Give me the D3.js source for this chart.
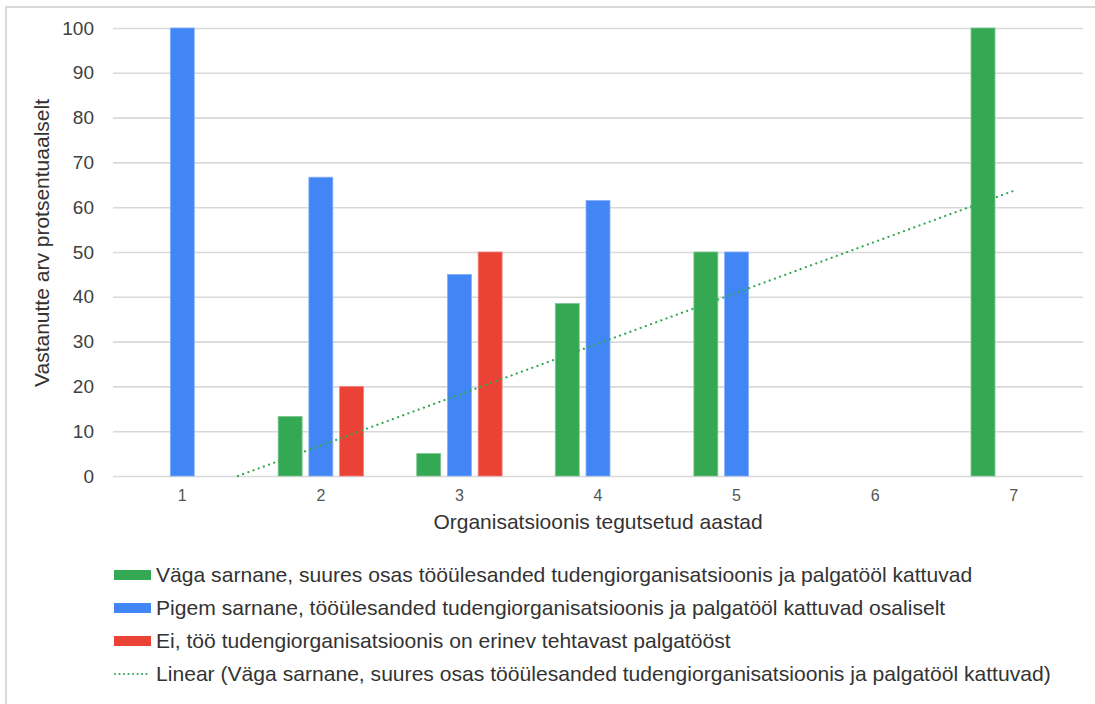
<!DOCTYPE html>
<html>
<head>
<meta charset="utf-8">
<script src="https://cdn.jsdelivr.net/npm/d3@7"></script>
<style>
  html, body { margin: 0; padding: 0; background: #fff; }
  svg { display: block; font-family: "Liberation Sans", Arial, Helvetica, sans-serif; }
</style>
</head>
<body>
<svg id="chart" width="1095" height="704"></svg>
<script>
// Years active in the organisation
const categories = ["1", "2", "3", "4", "5", "6", "7"];

// Share of respondents (%) per answer group
const seriesNames = [
  "Väga sarnane, suures osas tööülesanded tudengiorganisatsioonis ja palgatööl kattuvad",
  "Pigem sarnane, tööülesanded tudengiorganisatsioonis ja palgatööl kattuvad osaliselt",
  "Ei, töö tudengiorganisatsioonis on erinev tehtavast palgatööst"
];
const vagaSarnane  = [0, 13.3, 5, 38.5, 50, 0, 100];
const pigemSarnane = [100, 66.7, 45, 61.5, 50, 0, 0];
const erinev       = [0, 20, 50, 0, 0, 0, 0];
const seriesColors = ["#34a853", "#4285f4", "#ea4335"];

const trendLabel = "Linear (Väga sarnane, suures osas tööülesanded tudengiorganisatsioonis ja palgatööl kattuvad)";
const yTicks = [0, 10, 20, 30, 40, 50, 60, 70, 80, 90, 100];
const xTitle = "Organisatsioonis tegutsetud aastad";
const yTitle = "Vastanutte arv protsentuaalselt";

const seriesValues = [vagaSarnane, pigemSarnane, erinev];

const svg = d3.select("#chart");
const W = 1095, H = 704;
const plot = { left: 113, right: 1083, top: 28, bottom: 476 };

// outer frame
svg.append("rect")
  .attr("x", 6).attr("y", 7)
  .attr("width", W + 10).attr("height", H + 10)
  .attr("fill", "none").attr("stroke", "#d9d9d9").attr("stroke-width", 2);

const x0 = d3.scaleBand().domain(categories)
  .range([plot.left, plot.right])
  .paddingInner(0.335).paddingOuter(0.1675);
const x1 = d3.scaleBand().domain(d3.range(seriesNames.length))
  .range([0, x0.bandwidth()])
  .paddingInner(0.22).paddingOuter(0.11);
const y = d3.scaleLinear().domain([0, 100]).range([plot.bottom, plot.top]);

// horizontal gridlines + y labels
const yAxis = d3.axisLeft(y).tickValues(yTicks)
  .tickSize(-(plot.right - plot.left)).tickPadding(19).tickFormat(d3.format("d"));
const gy = svg.append("g").attr("transform", `translate(${plot.left},0)`).call(yAxis);
gy.select(".domain").remove();
gy.selectAll(".tick line").attr("stroke", "#d9d9d9").attr("stroke-width", 1.6);
gy.selectAll(".tick text")
  .attr("fill", "#404040").style("font-size", "19px");

// x labels
const xAxis = d3.axisBottom(x0).tickSize(0).tickPadding(14);
const gx = svg.append("g").attr("transform", `translate(0,${plot.bottom})`).call(xAxis);
gx.select(".domain").remove();
gx.selectAll(".tick text").attr("fill", "#555").style("font-size", "16px");

// bars
const groups = svg.append("g").selectAll("g")
  .data(categories).join("g")
  .attr("transform", d => `translate(${x0(d)},0)`);
groups.selectAll("rect")
  .data((c, ci) => seriesValues.map((vals, si) => ({ si, v: vals[ci] })))
  .join("rect")
  .filter(d => d.v > 0)
  .attr("x", d => x1(d.si))
  .attr("width", x1.bandwidth())
  .attr("y", d => y(d.v))
  .attr("height", d => y(0) - y(d.v))
  .attr("fill", d => seriesColors[d.si])
  .attr("stroke", d => d3.interpolateRgb(seriesColors[d.si], "#fff")(0.35))
  .attr("stroke-width", 0.8);

// least-squares trend of the first series (x = 1..7)
const xs = categories.map((c, i) => i + 1);
const mx = d3.mean(xs), my = d3.mean(vagaSarnane);
const slope = d3.sum(xs, (xv, i) => (xv - mx) * (vagaSarnane[i] - my)) / d3.sum(xs, xv => (xv - mx) ** 2);
const intercept = my - slope * mx;
const xPos = n => x0(categories[0]) + x0.bandwidth() / 2 + (n - 1) * x0.step();
const xStart = Math.max(1, -intercept / slope);
const xEnd = xs[xs.length - 1];
svg.append("line")
  .attr("x1", xPos(xStart)).attr("y1", y(slope * xStart + intercept))
  .attr("x2", xPos(xEnd)).attr("y2", y(slope * xEnd + intercept))
  .attr("stroke", "#34a853").attr("stroke-width", 2.2)
  .attr("stroke-linecap", "round").attr("stroke-dasharray", "0.1 5.4");

// axis titles
svg.append("text")
  .attr("x", (plot.left + plot.right) / 2).attr("y", 529)
  .attr("text-anchor", "middle").attr("fill", "#333")
  .style("font-size", "21px").text(xTitle);
svg.append("text")
  .attr("transform", `translate(49,243) rotate(-90)`)
  .attr("text-anchor", "middle").attr("fill", "#333")
  .style("font-size", "21px").text(yTitle);

// legend
const legendItems = seriesNames.map((n, i) => ({ name: n, color: seriesColors[i], dotted: false }))
  .concat([{ name: trendLabel, color: "#34a853", dotted: true }]);
const lg = svg.append("g").selectAll("g").data(legendItems).join("g")
  .attr("transform", (d, i) => `translate(114,${575 + i * 33})`);
lg.each(function (d) {
  const g = d3.select(this);
  if (d.dotted) {
    g.append("line").attr("x1", 1).attr("x2", 36).attr("y1", 0).attr("y2", 0)
      .attr("stroke", d.color).attr("stroke-width", 2)
      .attr("stroke-linecap", "round").attr("stroke-dasharray", "0.1 4.4");
  } else {
    g.append("rect").attr("x", 0).attr("y", -5).attr("width", 37).attr("height", 10)
      .attr("fill", d.color);
  }
  g.append("text").attr("x", 42).attr("y", 0).attr("dy", "0.35em")
    .attr("fill", "#333").style("font-size", "21.1px").text(d.name);
});
</script>
</body>
</html>
